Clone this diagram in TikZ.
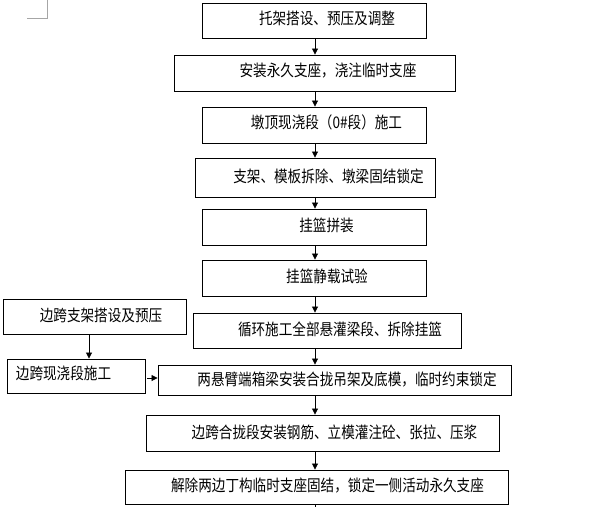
\documentclass[tikz,border=0pt]{standalone}
\usepackage{fontspec}
\setmainfont{Noto Sans CJK SC}
\usetikzlibrary{arrows.meta}
\begin{document}
\begin{tikzpicture}[x=1pt,y=-1pt,
  box/.style={draw=black,line width=0.9pt,inner sep=0pt,minimum width=#1},
  lbl/.style={inner sep=0pt,font=\fontsize{13.6}{14}\selectfont,yscale=1.18,transform shape},
  arr/.style={draw=black,line width=0.8pt,-{Triangle[length=6pt,width=6pt]}}]
\useasboundingbox (0,0) rectangle (609,507);
% crop mark
\draw[gray!70,line width=0.8pt] (47,0) -- (47,18) -- (27,18);
% boxes
\node[box=224,minimum height=35] (b1) at (314,20.5) {};
\node[box=281,minimum height=36] (b2) at (314.5,73) {};
\node[box=224,minimum height=36] (b3) at (314,125) {};
\node[box=240,minimum height=39] (b4) at (315,177.5) {};
\node[box=224,minimum height=36] (b5) at (314,227) {};
\node[box=224,minimum height=36] (b6) at (314,278) {};
\node[box=183,minimum height=35] (l1) at (94.5,316.5) {};
\node[box=268,minimum height=35] (b7) at (327,330.5) {};
\node[box=138,minimum height=34] (l2) at (76,376) {};
\node[box=353,minimum height=30] (b8) at (334.5,380) {};
\node[box=353,minimum height=36] (b9) at (322.5,433) {};
\node[box=383,minimum height=34] (b10) at (316.5,487) {};
% labels
\node[lbl] (t1) at (327,18) {托架搭设、预压及调整};
\node[lbl] (t2) at (328,70.5) {安装永久支座，浇注临时支座};
\node[lbl] (t3) at (326.5,122.5) {墩顶现浇段（0\#段）施工};
\node[lbl] (t4) at (328.5,176) {支架、模板拆除、墩梁固结锁定};
\node[lbl] (t5) at (326.5,225) {挂篮拼装};
\node[lbl] (t6) at (327,276) {挂篮静载试验};
\node[lbl] (tl1) at (101,315) {边跨支架搭设及预压};
\node[lbl] (t7) at (340,329.5) {循环施工全部悬灌梁段、拆除挂篮};
\node[lbl] (tl2) at (63.5,373.5) {边跨现浇段施工};
\node[lbl] (t8) at (347,379.5) {两悬臂端箱梁安装合拢吊架及底模，临时约束锁定};
\node[lbl] (t9) at (334.5,432) {边跨合拢段安装钢筋、立模灌注砼、张拉、压浆};
\node[lbl] (t10) at (327.5,485.5) {解除两边丁构临时支座固结，锁定一侧活动永久支座};
% connectors
\coordinate (ax) at (315,0);
\coordinate (ay) at (89,0);
\coordinate (end) at (315,507);
\draw[arr] (b1.south -| ax) -- (b2.north -| ax);
\draw[arr] (b2.south -| ax) -- (b3.north -| ax);
\draw[arr] (b3.south -| ax) -- (b4.north -| ax);
\draw[arr] (b4.south -| ax) -- (b5.north -| ax);
\draw[arr] (b5.south -| ax) -- (b6.north -| ax);
\draw[arr] (b6.south -| ax) -- (b7.north -| ax);
\draw[arr] (b7.south -| ax) -- (b8.north -| ax);
\draw[arr] (b8.south -| ax) -- (b9.north -| ax);
\draw[arr] (b9.south -| ax) -- (b10.north -| ax);
\draw[black,line width=0.8pt] (b10.south -| ax) -- (end);
\draw[arr] (l1.south -| ay) -- (l2.north -| ay);
\draw[arr] ([xshift=2pt]l2.east |- 0,378) -- (b8.west |- 0,378);
\end{tikzpicture}
\end{document}
